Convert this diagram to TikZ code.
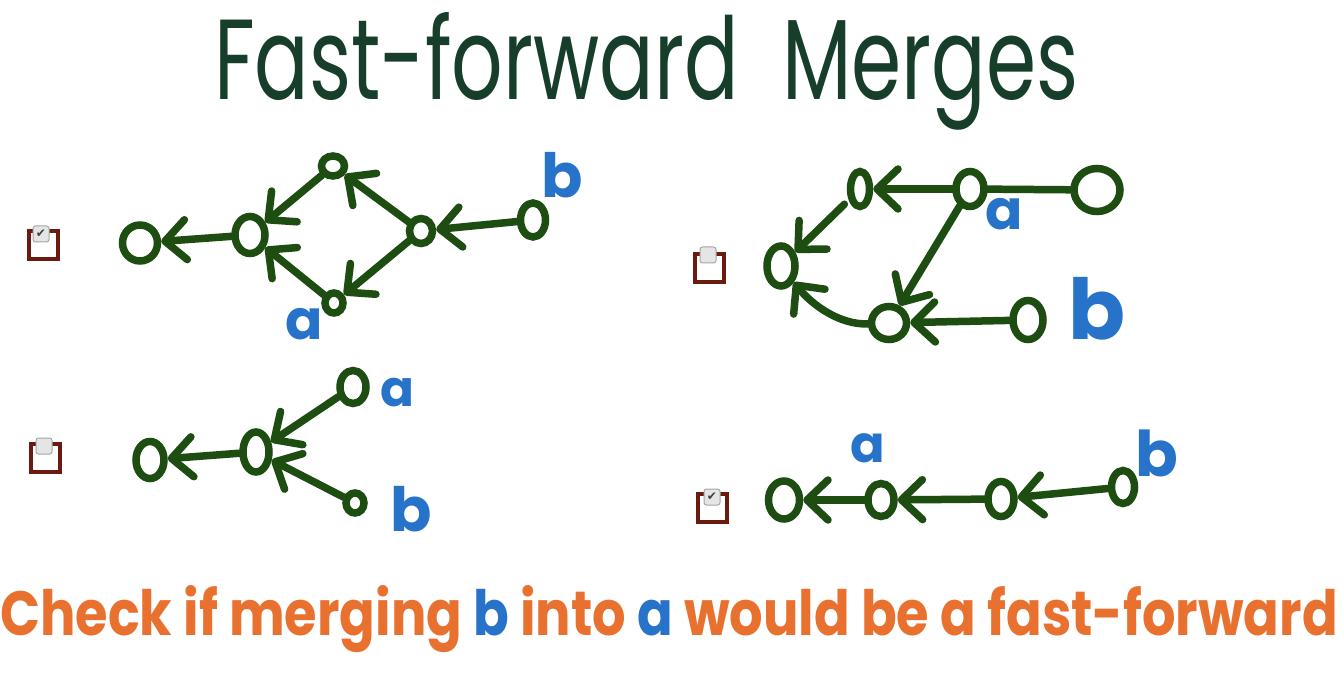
\documentclass[tikz,border=0pt]{standalone}
\usepackage{fontspec}
\usepackage{graphicx}
\setmainfont{Poppins}
\newfontfamily\dejavu{DejaVu Sans}
\usetikzlibrary{arrows.meta,shapes.geometric}
\definecolor{gr}{HTML}{1E4D12}
\definecolor{tg}{HTML}{163E2B}
\definecolor{bl}{HTML}{2673C9}
\definecolor{orn}{HTML}{E9712F}
\definecolor{cbred}{HTML}{6B1A0F}
\tikzset{
  cm/.style 2 args={ellipse, draw=gr, line width=7.5pt, inner sep=0pt, minimum width=#1, minimum height=#2},
  ln/.style={draw=gr, line width=7.5pt, line cap=round},
  arr/.style={ln, -{Straight Barb[length=21pt,width=40pt,round]}},
  cbox/.style={draw=cbred, line width=4pt, minimum width=29pt, minimum height=28pt, inner sep=0pt},
  cgray/.style={draw=gray!70, fill=gray!20, rounded corners=2.5pt, line width=1pt, minimum width=16pt, minimum height=16pt, inner sep=0pt, text=black!75},
  lab/.style={text=bl, inner sep=0pt, anchor=south west, font=\bfseries},
}
\newcommand{\fsz}[1]{\fontsize{#1}{#1}\selectfont}
\begin{document}
\begin{tikzpicture}[x=1pt,y=-1pt]
\useasboundingbox (0,0) rectangle (1344,692);
\fill[white] (0,0) rectangle (1344,692);
% title
\node[anchor=base west, inner sep=0pt, text=tg] (title) at (214,100) {\resizebox{864pt}{87pt}{Fast-forward\ \ Merges}};
% caption
\node[anchor=base west, inner sep=0pt] (caption) at (0,635) {\resizebox{1337pt}{50pt}{\bfseries\textcolor{orn}{Check if merging}\ \textcolor{bl}{b}\ \textcolor{orn}{into}\ \textcolor{bl}{a}\ \textcolor{orn}{would be a fast-forward}}};

% ---------- checkboxes
\node[cbox] (cb1) at (43,245) {};
\node[cgray] (cg1) at (41,234) {\dejavu\fsz{12}✔};
\node[cbox] (cb2) at (709,268) {};
\node[cgray] (cg2) at (708,255) {};
\node[cbox] (cb3) at (45,458) {};
\node[cgray] (cg3) at (44,446) {};
\node[cbox] (cb4) at (712,508) {};
\node[cgray] (cg4) at (712,497) {\dejavu\fsz{12}✔};

% ---------- graph 1
\node[cm={35pt}{36pt}] (n1) at (140,243) {};
\node[cm={30pt}{37pt}] (n2) at (250,235) {};
\node[cm={23pt}{20pt}] (n3) at (333,166) {};
\node[cm={23pt}{25pt}] (n4) at (421,231) {};
\node[cm={18pt}{20pt}] (n5) at (334,303) {};
\node[cm={25pt}{34pt}] (n6) at (533,220) {};
\draw[arr] (n2) -- (n1);
\draw[arr] (n3) -- (n2);
\draw[arr] (n5) -- (n2);
\draw[arr] (n4) -- (n3);
\draw[arr] (n4) -- (n5);
\draw[arr] (n6) -- (n4);
\node[lab] (b1) at (541,198) {\fsz{61}b};
\node[lab] (a1) at (285,340) {\fsz{55}a};

% ---------- graph 2
\node[cm={28pt}{40pt}] (m1) at (781,266) {};
\node[cm={19pt}{35pt}] (m2) at (860,189) {};
\node[cm={28pt}{35pt}] (m3) at (970,189) {};
\node[cm={46pt}{43pt}] (m4) at (1097,190) {};
\node[cm={35pt}{33pt}] (m5) at (889,323) {};
\node[cm={30pt}{39pt}] (m6) at (1028,320) {};
\draw[arr] (m3) -- (m2);
\draw[arr, shorten <=6pt] (m2) -- (m1);
\draw[arr] (m3) -- (m5);
\draw[arr] (m5) .. controls (840,325) and (812,305) .. (m1);
\draw[arr] (m6) -- (m5);
\draw[ln] (m4) -- (m3);
\node[lab] (a2) at (985,230) {\fsz{55}a};
\node[lab] (b2) at (1068,340) {\fsz{84}b};

% ---------- graph 3
\node[cm={28pt}{37pt}] (p1) at (150,460) {};
\node[cm={26pt}{40pt}] (p2) at (256,452) {};
\node[cm={26pt}{33pt}] (p3) at (353,387) {};
\node[cm={18pt}{20pt}] (p4) at (355,503) {};
\draw[arr] (p2) -- (p1);
\draw[arr] (p3) -- (p2);
\draw[arr] (p4) -- (p2);
\node[lab] (a3) at (380,407) {\fsz{50}a};
\node[lab] (b3) at (390,532) {\fsz{61}b};

% ---------- graph 4
\node[cm={31pt}{38pt}] (q1) at (784,500) {};
\node[cm={26pt}{33pt}] (q2) at (881,500) {};
\node[cm={26pt}{35pt}] (q3) at (1001,499) {};
\node[cm={23pt}{33pt}] (q4) at (1123,487) {};
\draw[arr] (q2) -- (q1);
\draw[arr] (q3) -- (q2);
\draw[arr] (q4) -- (q3);
\node[lab] (a4) at (850,463) {\fsz{51}a};
\node[lab] (b4) at (1135,477) {\fsz{63}b};
\end{tikzpicture}
\end{document}
